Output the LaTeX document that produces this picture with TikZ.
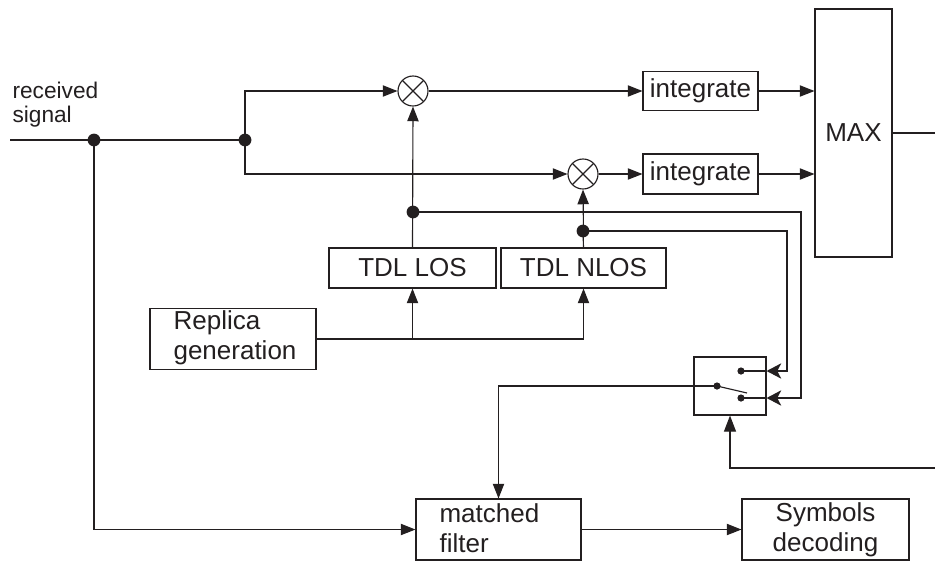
\documentclass[tikz,border=0pt]{standalone}
\usepackage{fontspec}
\setmainfont{Liberation Sans}
\usetikzlibrary{arrows.meta}
\definecolor{ink}{HTML}{231F20}
\begin{document}
\begin{tikzpicture}[x=0.75pt,y=-0.75pt,
  line width=0.85pt, draw=ink,
  box/.style={draw=ink, line width=0.85pt, inner sep=0pt, text=ink,
    font=\fontsize{19.5}{22.5}\selectfont, align=center},
  txt/.style={inner sep=0pt, text=ink, font=\fontsize{19.5}{22.5}\selectfont, align=left},
  mult/.style={circle, draw=ink, line width=0.85pt, minimum size=22.5pt, inner sep=0pt,
    path picture={\draw[ink, line width=0.85pt]
      (path picture bounding box.north west) -- (path picture bounding box.south east)
      (path picture bounding box.north east) -- (path picture bounding box.south west);}},
  arr/.style={-{Triangle[length=11pt,width=8.5pt]}},
  arrsw/.style={-{Stealth[length=11pt,width=11.5pt,inset=3pt]}},
  arrup/.style={-{Triangle[length=12pt,width=9pt]}},
  dot/.style={fill=ink},
]
\useasboundingbox (0,0) rectangle (935,561);

% blocks
\node[mult] (m1) at (413,91) {};
\node[mult] (m2) at (583,174) {};
\node[box, minimum width=86.25pt, minimum height=29.25pt] (i1) at (700.5,91) {integrate};
\node[box, minimum width=86.25pt, minimum height=30pt] (i2) at (700.5,174) {integrate};
\node[box, minimum width=57.75pt, minimum height=186pt] (max) at (853.5,133) {MAX};
\node[box, minimum width=125.25pt, minimum height=30pt] (los) at (412.5,268) {TDL LOS};
\node[box, minimum width=123.75pt, minimum height=30pt] (nlos) at (583.5,268) {TDL NLOS};
\node[box, minimum width=124.5pt, minimum height=45.75pt] (rep) at (233,339) {};
\node[txt, anchor=west] (reptext) at (173,338) {Replica\\generation};
\node[box, minimum width=54pt, minimum height=43.5pt] (sw) at (730,386) {};
\node[box, minimum width=123.75pt, minimum height=45.75pt] (mf) at (498.5,529.5) {};
\node[txt, anchor=west] (mftext) at (439,528) {matched\\filter};
\node[box, minimum width=125.25pt, minimum height=45.75pt] (sym) at (825.5,529.5) {Symbols\\decoding};
\node[inner sep=0pt, text=ink, anchor=west, align=left, font=\fontsize{17}{18}\selectfont] (rx) at (12,104.5) {received\\signal};

% coordinates
\coordinate (in) at (10,140);
\coordinate (j1) at (94,140);
\coordinate (j2) at (245,140);
\coordinate (j3) at (413,212);
\coordinate (j4) at (583,231);
\coordinate (b1) at (801,398);
\coordinate (b2) at (787,371);
\coordinate (c0) at (717,386);
\coordinate (c1) at (741,371);
\coordinate (c2) at (741,398);
\coordinate (lev) at (747,393);
\coordinate (out1) at (935,133);
\coordinate (out2) at (935,468);

% connectors
\draw[ink] (in) -- (j2);
\draw[ink, arr] (j2) |- (m1.west);
\draw[ink, arr] (j2) |- (m2.west);
\draw[ink, arr] (m1) -- (i1);
\draw[ink, arr] (m2) -- (i2);
\draw[ink, arr] (i1) -- (i1 -| max.west);
\draw[ink, arr] (i2) -- (i2 -| max.west);
\draw[ink] (max.east |- out1) -- (out1);
\draw[ink, arr] (los.north) -- (m1.south);
\draw[ink, arr] (nlos.north |- j4) -- (m2.south);
\draw[ink] (nlos.north) -- (j4);
\draw[ink, arr] (rep.east) -| (los.south);
\draw[ink, arr] (rep.east) -| (nlos.south);
\draw[ink, arrsw] (j3) -| (b1) -- (sw.east |- b1);
\draw[ink] (sw.east |- b1) -- (c2);
\draw[ink, arrsw] (j4) -| (b2) -- (sw.east |- b2);
\draw[ink] (sw.east |- b2) -- (c1);
\draw[ink, arr] (c0) -| (mf.north);
\draw[ink] (c0) -- (lev);
\draw[ink, arr] (j1) |- (mf.west);
\draw[ink, arr] (mf) -- (sym);
\draw[ink, arrup] (out2) -| (sw.south);

% dots
\foreach \p in {j1,j2,j3,j4} \fill[dot] (\p) circle (4.8pt);
\foreach \p in {c0,c1,c2} \fill[dot] (\p) circle (2.7pt);
\end{tikzpicture}
\end{document}
